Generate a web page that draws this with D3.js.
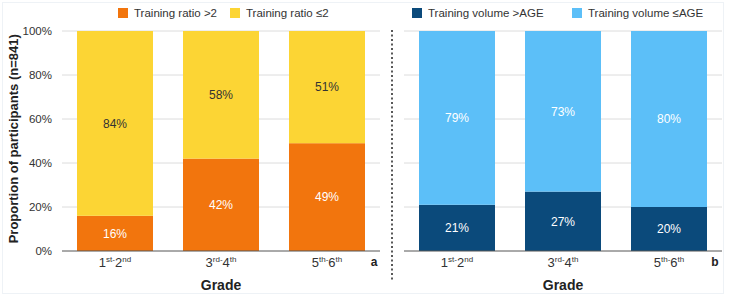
<!DOCTYPE html>
<html>
<head>
<meta charset="utf-8">
<script src="https://cdn.jsdelivr.net/npm/d3@7"></script>
<style>
  body { margin: 0; background: #fff; }
  svg { font-family: "Liberation Sans", Arial, Helvetica, sans-serif; }
</style>
</head>
<body>
<svg id="drawing_region"></svg>
<script>
// grade labels: [number, superscript, number, superscript]
const grades = [["1", "st", "2", "nd"], ["3", "rd", "4", "th"], ["5", "th", "6", "th"]];
const ratioHigh = [16, 42, 49];
const ratioLow = [84, 58, 51];
const volumeHigh = [21, 27, 20];
const volumeLow = [79, 73, 80];
const yTicks = [0, 20, 40, 60, 80, 100];

const svg = d3.select('#drawing_region')
    .attr('width', 730)
    .attr('height', 297);

// faint frame around the figure
svg.append('rect')
    .attr('x', 2.5).attr('y', 2.5)
    .attr('width', 721).attr('height', 291)
    .attr('fill', 'none')
    .attr('stroke', '#eef2f6');

const yscale = d3.scaleLinear()
    .domain([0, 100])
    .range([251, 31]);

function drawPanel(cfg) {
    const xscale = d3.scaleBand()
        .domain(d3.range(grades.length))
        .range(cfg.range)
        .paddingInner(30 / 106)
        .paddingOuter(15 / 106);

    const g = svg.append('g');

    // gridlines
    g.selectAll('.grid')
        .data(yTicks.slice(1))
        .join('line')
        .attr('x1', cfg.range[0]).attr('x2', cfg.range[1])
        .attr('y1', d => yscale(d)).attr('y2', d => yscale(d))
        .attr('stroke', '#dcdcdc')
        .attr('stroke-width', 1);

    // bottom segment
    g.selectAll('.low')
        .data(cfg.bottom)
        .join('rect')
        .attr('x', (d, i) => xscale(i))
        .attr('width', xscale.bandwidth())
        .attr('y', d => yscale(d))
        .attr('height', d => yscale(0) - yscale(d))
        .attr('fill', cfg.colors[0]);

    // top segment
    g.selectAll('.high')
        .data(cfg.top)
        .join('rect')
        .attr('x', (d, i) => xscale(i))
        .attr('width', xscale.bandwidth())
        .attr('y', (d, i) => yscale(cfg.bottom[i] + d))
        .attr('height', (d, i) => yscale(cfg.bottom[i]) - yscale(cfg.bottom[i] + d))
        .attr('fill', cfg.colors[1]);

    // value labels
    g.selectAll('.vb')
        .data(cfg.bottom)
        .join('text')
        .attr('x', (d, i) => xscale(i) + xscale.bandwidth() / 2)
        .attr('y', d => yscale(d / 2))
        .attr('dy', '0.35em')
        .attr('text-anchor', 'middle')
        .attr('font-size', 12)
        .attr('fill', '#fff')
        .text(d => d + '%');

    g.selectAll('.vt')
        .data(cfg.top)
        .join('text')
        .attr('x', (d, i) => xscale(i) + xscale.bandwidth() / 2)
        .attr('y', (d, i) => yscale(cfg.bottom[i] + d / 2))
        .attr('dy', '0.35em')
        .attr('text-anchor', 'middle')
        .attr('font-size', 12)
        .attr('fill', cfg.topText)
        .text(d => d + '%');

    // baseline
    g.append('line')
        .attr('x1', cfg.range[0]).attr('x2', cfg.range[1])
        .attr('y1', yscale(0)).attr('y2', yscale(0))
        .attr('stroke', '#555')
        .attr('stroke-width', 1);

    // x tick labels with superscripts
    const xt = g.selectAll('.xt')
        .data(grades)
        .join('text')
        .attr('x', (d, i) => xscale(i) + xscale.bandwidth() / 2)
        .attr('y', 267)
        .attr('text-anchor', 'middle')
        .attr('font-size', 13)
        .attr('fill', '#333');
    xt.append('tspan').text(d => d[0]);
    xt.append('tspan').attr('font-size', 8).attr('dy', -5).text(d => d[1] + '-');
    xt.append('tspan').attr('dy', 5).text(d => d[2]);
    xt.append('tspan').attr('font-size', 8).attr('dy', -5).text(d => d[3]);

    // panel letter
    g.append('text')
        .attr('x', cfg.letterX)
        .attr('y', 266)
        .attr('text-anchor', 'middle')
        .attr('font-size', 12)
        .attr('font-weight', 'bold')
        .attr('fill', '#222')
        .text(cfg.letter);

    // axis title
    g.append('text')
        .attr('x', (cfg.range[0] + cfg.range[1]) / 2)
        .attr('y', 290)
        .attr('text-anchor', 'middle')
        .attr('font-size', 14)
        .attr('font-weight', 'bold')
        .attr('fill', '#222')
        .text('Grade');

    // legend
    const lg = g.selectAll('.legend')
        .data(cfg.legend)
        .join('g')
        .attr('transform', d => `translate(${d.x}, 13)`);
    lg.append('rect')
        .attr('x', 0).attr('y', -5)
        .attr('width', 10).attr('height', 10)
        .attr('fill', d => d.color);
    lg.append('text')
        .attr('x', 16)
        .attr('dy', '0.35em')
        .attr('font-size', 11.5)
        .attr('fill', '#333')
        .text(d => d.label);
}

drawPanel({
    range: [62, 380],
    bottom: ratioHigh,
    top: ratioLow,
    colors: ['#f2750d', '#fcd534'],
    topText: '#333',
    letter: 'a',
    letterX: 374,
    legend: [
        {x: 118, color: '#f2750d', label: 'Training ratio >2'},
        {x: 230, color: '#fcd534', label: 'Training ratio \u22642'}
    ]
});

drawPanel({
    range: [404, 722],
    bottom: volumeHigh,
    top: volumeLow,
    colors: ['#0b4a7b', '#5cbff8'],
    topText: '#fff',
    letter: 'b',
    letterX: 715,
    legend: [
        {x: 412, color: '#0b4a7b', label: 'Training volume >AGE'},
        {x: 572, color: '#5cbff8', label: 'Training volume \u2264AGE'}
    ]
});

// y axis
const yaxis = d3.axisLeft(yscale)
    .tickValues(yTicks)
    .tickFormat(d => d + '%')
    .tickSize(0)
    .tickPadding(0);
const yg = svg.append('g')
    .attr('transform', 'translate(52, 0)')
    .call(yaxis);
yg.select('.domain').remove();
yg.selectAll('text')
    .attr('font-size', 11.5)
    .attr('fill', '#333')
    .attr('font-family', null);

svg.append('text')
    .attr('transform', `translate(18, ${yscale(51)}) rotate(-90)`)
    .attr('text-anchor', 'middle')
    .attr('font-size', 13)
    .attr('font-weight', 'bold')
    .attr('fill', '#222')
    .text('Proportion of participants (n=841)');

// dotted divider
svg.append('line')
    .attr('x1', 392).attr('x2', 392)
    .attr('y1', 30).attr('y2', 282)
    .attr('stroke', '#222')
    .attr('stroke-width', 1.5)
    .attr('stroke-dasharray', '2,2.5');
</script>
</body>
</html>
